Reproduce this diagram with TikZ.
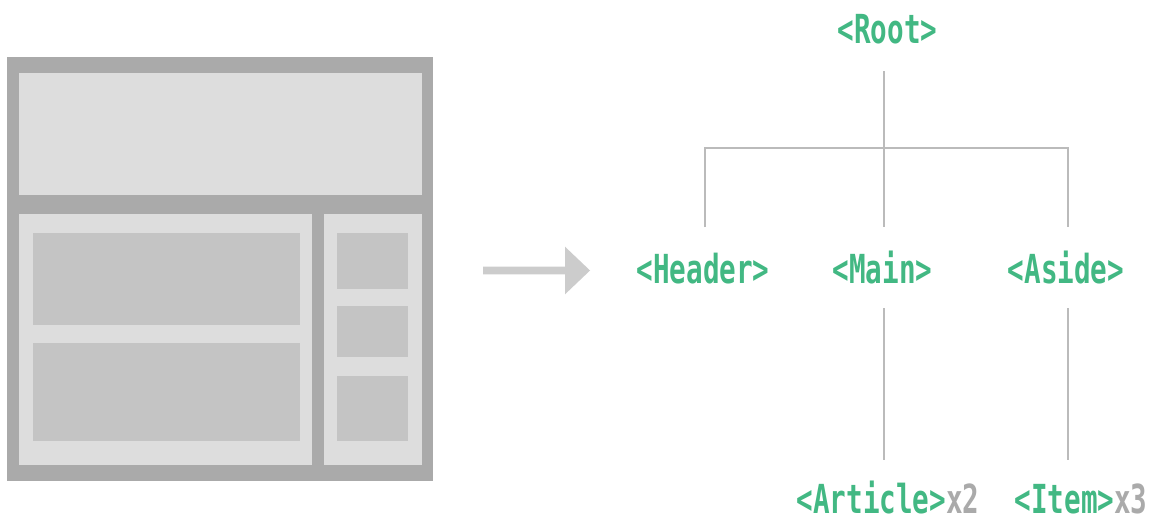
\documentclass[tikz,border=0pt]{standalone}
\usepackage{fontspec}
\newfontfamily\codefont[FakeStretch=0.69]{DejaVu Sans Mono}
\definecolor{vuegreen}{HTML}{42B883}
\definecolor{frame}{HTML}{AAAAAA}
\definecolor{panel}{HTML}{DDDDDD}
\definecolor{block}{HTML}{C4C4C4}
\definecolor{arrowgrey}{HTML}{CCCCCC}
\definecolor{wire}{HTML}{BBBBBB}
\definecolor{countgrey}{HTML}{AAAAAA}
\tikzset{
  tag/.style={inner sep=0pt, anchor=base, text=vuegreen,
    font=\codefont\bfseries\fontsize{40}{40}\selectfont},
  wirestyle/.style={draw=wire, line width=2pt},
}
\newcommand{\cnt}[1]{\textcolor{countgrey}{#1}}
\begin{document}
\begin{tikzpicture}[x=1pt, y=-1pt]
\useasboundingbox (0,0) rectangle (1158,522);
\fill[white] (0,0) rectangle (1158,522);

% page layout sketch
\fill[frame] (7,57) rectangle (433,481);
\fill[panel] (19.3,73.3) rectangle (422.3,195);
\fill[panel] (19.3,213.7) rectangle (312,465.3);
\fill[panel] (324,213.7) rectangle (422.3,465.3);
\fill[block] (33.3,232.7) rectangle (300,324.7);
\fill[block] (33.3,343.3) rectangle (300,440.7);
\fill[block] (336.7,232.7) rectangle (408.3,289.3);
\fill[block] (336.7,306) rectangle (408.3,356.7);
\fill[block] (336.7,376) rectangle (408.3,440.7);

% transformation arrow
\fill[arrowgrey] (483,266.7) -- (565,266.7) -- (565,246.7) -- (590,270.5)
  -- (565,294.3) -- (565,274.3) -- (483,274.3) -- cycle;

% component tree
\node[tag] (root)    at (887.5,43)  {<Root>};
\node[tag] (header)  at (703,283)   {<Header>};
\node[tag] (main)    at (882.5,283) {<Main>};
\node[tag] (aside)   at (1066,283)  {<Aside>};
\node[tag] (article) at (888,513.5) {<Article>\cnt{x2}};
\node[tag] (item)    at (1081,513.5) {<Item>\cnt{x3}};

\coordinate (rootfoot)  at (884,71);
\coordinate (busL)      at (705,147.5);
\coordinate (busR)      at (1068,147.5);
\coordinate (headertop) at (705,227);
\coordinate (maintop)   at (884,227);
\coordinate (asidetop)  at (1068,227);
\coordinate (mainfoot)  at (884,308);
\coordinate (asidefoot) at (1068,308);
\coordinate (articletop) at (884,460);
\coordinate (itemtop)   at (1068,460);

\draw[wirestyle] (rootfoot) -- (maintop);
\draw[wirestyle] (headertop) -- (busL) -- (busR) -- (asidetop);
\draw[wirestyle] (mainfoot) -- (articletop);
\draw[wirestyle] (asidefoot) -- (itemtop);
\end{tikzpicture}
\end{document}
